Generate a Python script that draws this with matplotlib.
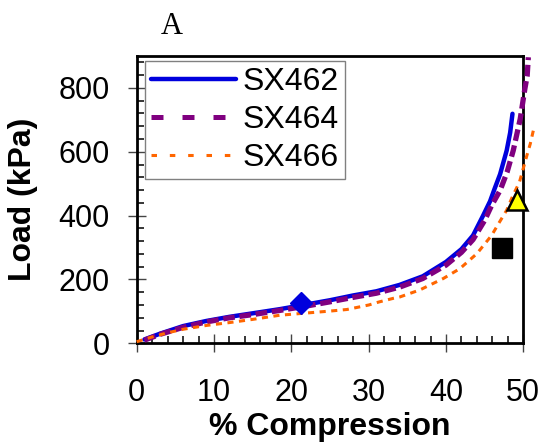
import matplotlib
matplotlib.use("Agg")
import matplotlib.pyplot as plt
from matplotlib.ticker import MultipleLocator
from matplotlib.lines import Line2D

# ---- data ----
sx462_x = [1, 3, 6, 9, 12, 15, 18.5, 22, 25, 28, 31, 34, 37, 40, 42, 43.5, 44.8, 45.7, 46.3, 47.0, 47.85, 48.3, 48.6]
sx462_y = [12, 30, 54, 70, 83, 94, 107, 122, 135, 150, 163, 183, 210, 255, 295, 338, 400, 445, 485, 530, 604, 660, 719]

sx464_x = [1, 3, 6, 9, 12, 15, 18.5, 22, 25, 28, 31, 34, 37, 40, 42, 43.5, 45, 45.9, 47.0, 47.9, 48.7, 49.6, 50.2, 50.5, 50.65]
sx464_y = [10, 28, 50, 67, 80, 90, 103, 117, 130, 144, 157, 176, 203, 245, 285, 325, 385, 432, 479, 536, 604, 703, 797, 838, 896]

sx466_x = [0, 2, 4, 6, 9, 12, 15, 18.5, 22, 25, 27.2, 30, 31.4, 33.2, 34, 36.6, 39.65, 41.8, 44, 45.9, 46.8, 47.85, 48.6, 49.5, 49.8, 50.4, 50.9, 51.3]
sx466_y = [5, 20, 33, 44, 56, 65, 75, 88, 95, 101, 106, 120, 130, 141, 145, 167, 203, 234, 281, 338, 375, 417, 460, 505, 531, 583, 625, 667]

labels = ["SX462", "SX464", "SX466"]

diamond_pt = (21.3, 125)
square_pt = (47.2, 300)
triangle_pt = (49.2, 450)

xticks = [0, 10, 20, 30, 40, 50]
yticks = [0, 200, 400, 600, 800]

# ---- figure ----
plt.rcParams['font.family'] = ['Liberation Sans', 'DejaVu Sans']
fig = plt.figure(figsize=(5.45, 4.43), dpi=100)
ax = fig.add_axes([0.2508, 0.225, 0.7094, 0.6486])

blue = '#0000DD'
purple = '#800080'
orange = '#FF6600'

ax.plot(sx462_x, sx462_y, color=blue, lw=3.2, solid_capstyle='round',
        clip_on=False, zorder=3)
ax.plot(sx464_x, sx464_y, color=purple, lw=3.8, dashes=(2.2, 0.9),
        clip_on=False, zorder=4)
ax.plot(sx466_x, sx466_y, color=orange, lw=2.2, dashes=(2.0, 1.8),
        clip_on=False, zorder=5)

ax.plot([diamond_pt[0]], [diamond_pt[1]], marker='D', ms=11, color=blue,
        mec=blue, ls='none', zorder=6, clip_on=False)
ax.plot([square_pt[0]], [square_pt[1]], marker='s', ms=14.5, color='black',
        ls='none', zorder=6, clip_on=False)
ax.plot([triangle_pt[0]], [triangle_pt[1]], marker='^', ms=15, color='#FFFF00',
        mec='black', mew=1.8, ls='none', zorder=6, clip_on=False)

ax.set_xlim(0, 50)
ax.set_ylim(0, 900)
ax.set_xticks(xticks)
ax.set_yticks(yticks)
ax.xaxis.set_minor_locator(MultipleLocator(2))
ax.yaxis.set_minor_locator(MultipleLocator(40))

for s in ax.spines.values():
    s.set_linewidth(2.0)

ax.tick_params(which='major', direction='inout', length=13.5, width=1.0,
               color='#444444', labelsize=22)
ax.tick_params(axis='x', which='major', pad=18)
ax.tick_params(axis='y', which='major', pad=12.5)
ax.tick_params(which='minor', direction='in', length=5, width=1.1, color='black')

ax.set_xlabel('% Compression', fontsize=23, fontweight='bold', labelpad=3)
ax.set_ylabel('Load (kPa)', fontsize=23, fontweight='bold', labelpad=15)

handles = [
    Line2D([], [], color=blue, lw=3.2, solid_capstyle='round'),
    Line2D([], [], color=purple, lw=3.6, dashes=(2.4, 3.8)),
    Line2D([], [], color=orange, lw=2.2, dashes=(1.8, 4.2)),
]
leg = ax.legend(handles=handles, labels=labels, loc='upper left',
                bbox_to_anchor=(0.0215, 0.9836), borderaxespad=0,
                fontsize=23, handlelength=2.65, handletextpad=0.22,
                labelspacing=0.25, borderpad=0.19, fancybox=False,
                framealpha=1, edgecolor='#808080')
leg.get_frame().set_linewidth(1.0)

fig.text(0.3156, 0.941, 'A', fontsize=22, family='Liberation Serif',
         ha='center', va='center')

fig.savefig('out.png', dpi=100)
